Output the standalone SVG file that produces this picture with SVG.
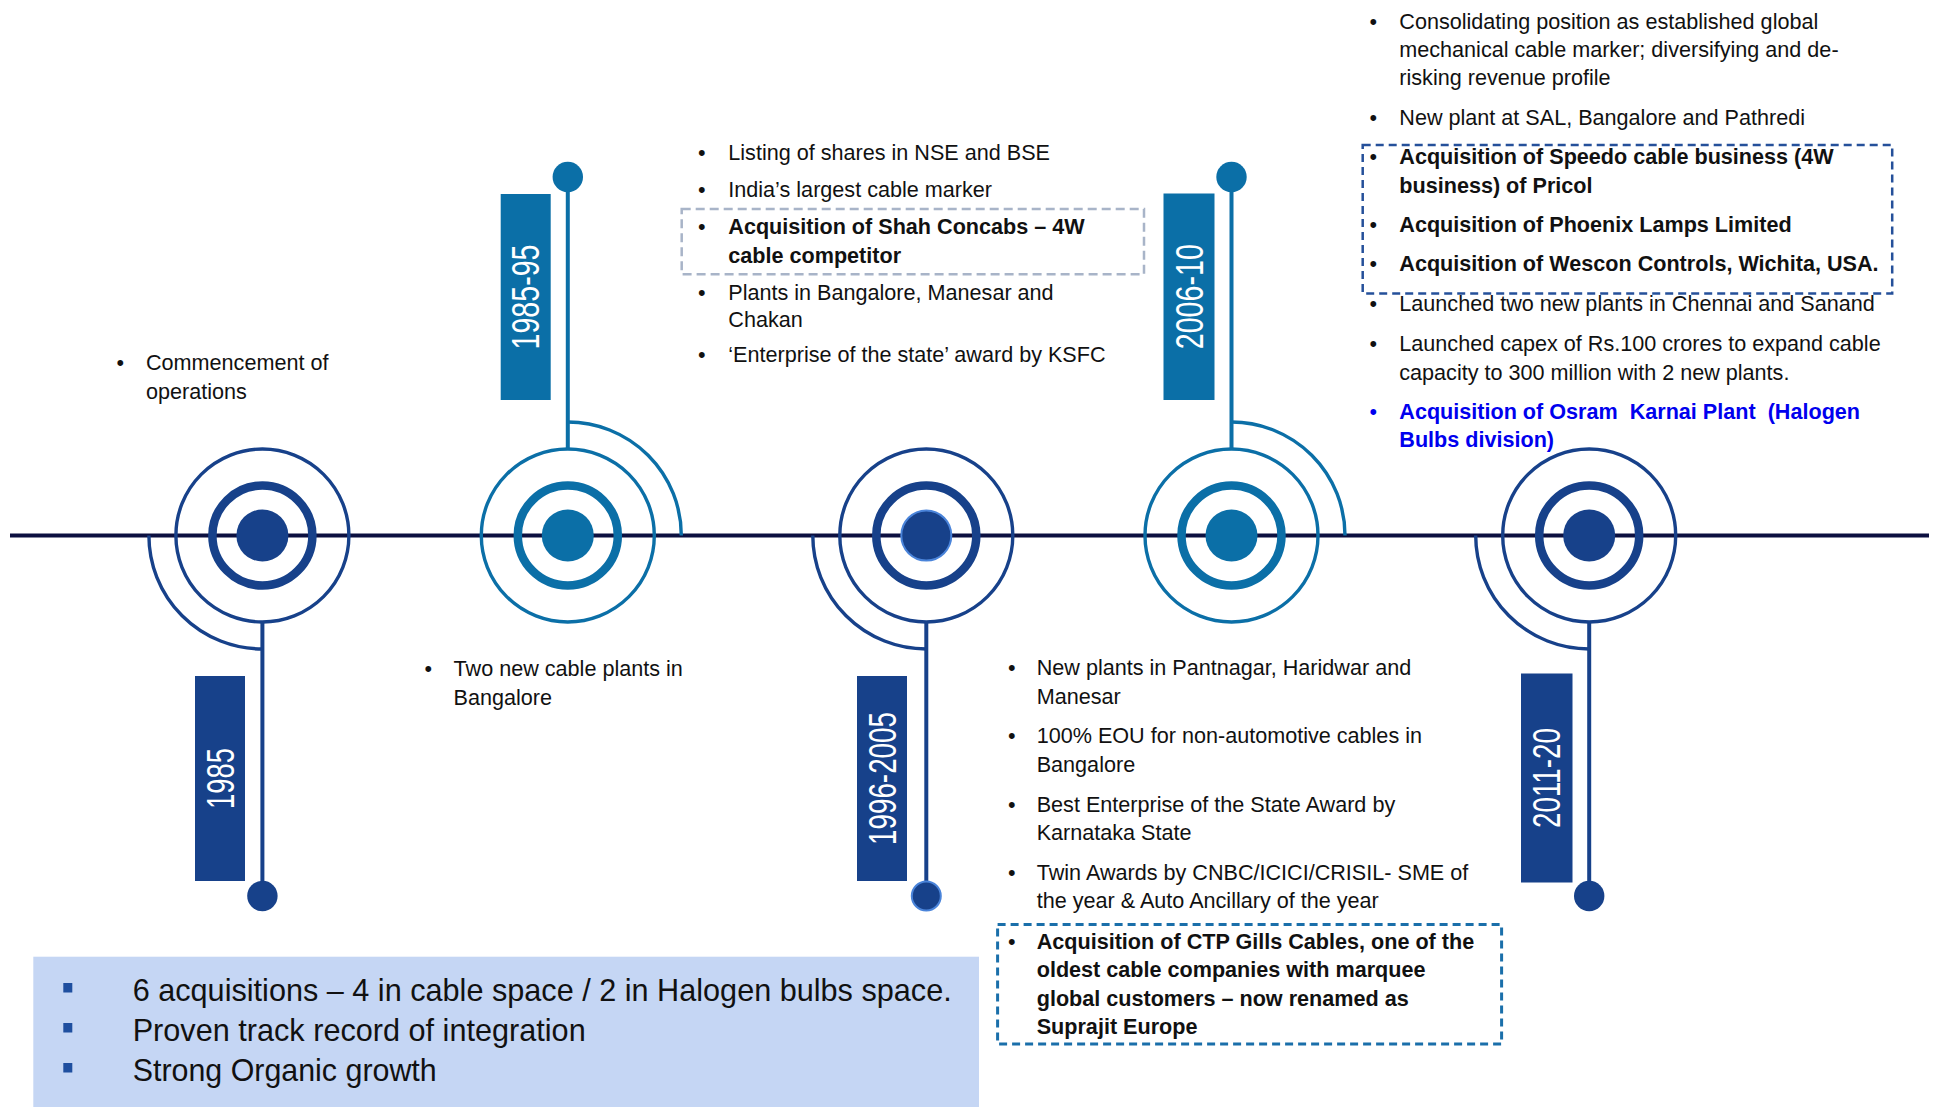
<svg xmlns="http://www.w3.org/2000/svg" width="1939" height="1107" viewBox="0 0 1939 1107">
<style>
.t{font-family:"Liberation Sans",Arial,sans-serif;font-size:21.6px;fill:#111}
.b{font-weight:bold}
.blue{fill:#0000ee}
.big{font-size:32px}
.yr{font-family:"Liberation Sans",Arial,sans-serif;font-size:38px;fill:#fff}
.bu{text-anchor:middle}
.dk{stroke:#17418a;fill:none}
.tl{stroke:#0b6fa7;fill:none}
.fdk{fill:#17418a}
.ftl{fill:#0b6fa7}
.outer{stroke-width:3.4}
.ring{stroke-width:8.5}
.arc{stroke-width:3.4}
.stem{stroke-width:4}
</style>
<rect x="0" y="0" width="1939" height="1107" fill="#fff"/>

<g id="summary-box">
<rect x="33.3" y="956.7" width="945.7" height="151" fill="#c5d6f4"/>
<rect x="63.3" y="983" width="9" height="9.5" fill="#1f4f9f"/>
<rect x="63.3" y="1023" width="9" height="9.5" fill="#1f4f9f"/>
<rect x="63.3" y="1063" width="9" height="9.5" fill="#1f4f9f"/>
<text class="t big" x="132.7" y="1001" textLength="819" lengthAdjust="spacingAndGlyphs">6 acquisitions – 4 in cable space / 2 in Halogen bulbs space.</text>
<text class="t big" x="132.7" y="1041" textLength="453" lengthAdjust="spacingAndGlyphs">Proven track record of integration</text>
<text class="t big" x="132.7" y="1081" textLength="304" lengthAdjust="spacingAndGlyphs">Strong Organic growth</text>
</g>

<g id="connectors">
<line x1="10" y1="535.5" x2="1929" y2="535.5" stroke="#0c1040" stroke-width="4"/>
</g>

<g id="node-1985">
<circle class="dk outer" cx="262.4" cy="535.5" r="86.5"/>
<circle class="dk ring" cx="262.4" cy="535.5" r="50"/>
<circle class="fdk" cx="262.4" cy="535.5" r="26"/>
<path class="dk arc" d="M148.9,535.5 A113.5,113.5 0 0 0 262.4,649"/>
<line class="dk stem" x1="262.4" y1="622" x2="262.4" y2="896"/>
<circle class="fdk" cx="262.4" cy="896" r="15.2"/>
<rect class="fdk" x="195" y="676" width="50" height="205"/>
<text class="yr" transform="translate(220,778.5) rotate(-90)" x="0" y="13.6" text-anchor="middle" textLength="61" lengthAdjust="spacingAndGlyphs">1985</text>
<text class="t bu" x="120.3" y="370">•</text>
<text class="t" x="146" y="370">Commencement of</text>
<text class="t" x="146" y="398.8">operations</text>
</g>

<g id="node-1985-95">
<circle class="tl outer" cx="567.8" cy="535.5" r="86.5"/>
<circle class="tl ring" cx="567.8" cy="535.5" r="50"/>
<circle class="ftl" cx="567.8" cy="535.5" r="26"/>
<path class="tl arc" d="M567.8,422 A113.5,113.5 0 0 1 681.3,535.5"/>
<line class="tl stem" x1="567.8" y1="449" x2="567.8" y2="177"/>
<circle class="ftl" cx="567.8" cy="177" r="15.2"/>
<rect class="ftl" x="500.7" y="194" width="50" height="206"/>
<text class="yr" transform="translate(525.7,297) rotate(-90)" x="0" y="13.6" text-anchor="middle" textLength="105" lengthAdjust="spacingAndGlyphs">1985-95</text>
<text class="t bu" x="428.4" y="676.3">•</text>
<text class="t" x="453.6" y="676.3">Two new cable plants in</text>
<text class="t" x="453.6" y="705">Bangalore</text>
</g>

<g id="node-1996-2005">
<circle class="dk outer" cx="926.3" cy="535.5" r="86.5"/>
<circle class="dk ring" cx="926.3" cy="535.5" r="50"/>
<circle class="fdk" cx="926.3" cy="535.5" r="25" stroke="#4a84da" stroke-width="2"/>
<path class="dk arc" d="M812.8,535.5 A113.5,113.5 0 0 0 926.3,649"/>
<line class="dk stem" x1="926.3" y1="622" x2="926.3" y2="896"/>
<circle class="fdk" cx="926.3" cy="896" r="14.5" stroke="#4a84da" stroke-width="2"/>
<rect class="fdk" x="857" y="676" width="50" height="205"/>
<text class="yr" transform="translate(882,778.5) rotate(-90)" x="0" y="13.6" text-anchor="middle" textLength="133" lengthAdjust="spacingAndGlyphs">1996-2005</text>
<rect x="681.7" y="209" width="462.3" height="65.3" fill="none" stroke="#a8b4c8" stroke-width="2.5" stroke-dasharray="9 5"/>
<text class="t bu" x="701.7" y="160">•</text>
<text class="t" x="728.3" y="160">Listing of shares in NSE and BSE</text>
<text class="t bu" x="701.7" y="196.7">•</text>
<text class="t" x="728.3" y="196.7">India’s largest cable marker</text>
<text class="t bu" x="701.7" y="234">•</text>
<text class="t b" x="728.3" y="234">Acquisition of Shah Concabs – 4W</text>
<text class="t b" x="728.3" y="262.7">cable competitor</text>
<text class="t bu" x="701.7" y="300">•</text>
<text class="t" x="728.3" y="300">Plants in Bangalore, Manesar and</text>
<text class="t" x="728.3" y="327.3">Chakan</text>
<text class="t bu" x="701.7" y="361.7">•</text>
<text class="t" x="728.3" y="361.7">‘Enterprise of the state’ award by KSFC</text>
</g>

<g id="node-2006-10">
<circle class="tl outer" cx="1231.5" cy="535.5" r="86.5"/>
<circle class="tl ring" cx="1231.5" cy="535.5" r="50"/>
<circle class="ftl" cx="1231.5" cy="535.5" r="26"/>
<path class="tl arc" d="M1231.5,422 A113.5,113.5 0 0 1 1345,535.5"/>
<line class="tl stem" x1="1231.5" y1="449" x2="1231.5" y2="177"/>
<circle class="ftl" cx="1231.5" cy="177" r="15.2"/>
<rect class="ftl" x="1163.5" y="193.5" width="51" height="206.5"/>
<text class="yr" transform="translate(1189,296.7) rotate(-90)" x="0" y="13.6" text-anchor="middle" textLength="105" lengthAdjust="spacingAndGlyphs">2006-10</text>
<text class="t bu" x="1011.7" y="675">•</text>
<text class="t" x="1036.7" y="675">New plants in Pantnagar, Haridwar and</text>
<text class="t" x="1036.7" y="704">Manesar</text>
<text class="t bu" x="1011.7" y="743.3">•</text>
<text class="t" x="1036.7" y="743.3">100% EOU for non-automotive cables in</text>
<text class="t" x="1036.7" y="771.7">Bangalore</text>
<text class="t bu" x="1011.7" y="811.7">•</text>
<text class="t" x="1036.7" y="811.7">Best Enterprise of the State Award by</text>
<text class="t" x="1036.7" y="840">Karnataka State</text>
<text class="t bu" x="1011.7" y="880">•</text>
<text class="t" x="1036.7" y="880">Twin Awards by CNBC/ICICI/CRISIL- SME of</text>
<text class="t" x="1036.7" y="908.3">the year &amp; Auto Ancillary of the year</text>
<rect x="997.6" y="924.5" width="504" height="119.5" fill="none" stroke="#1a6faa" stroke-width="3" stroke-dasharray="8 5"/>
<text class="t bu" x="1011.7" y="948.5">•</text>
<text class="t b" x="1036.7" y="948.5">Acquisition of CTP Gills Cables, one of the</text>
<text class="t b" x="1036.7" y="977">oldest cable companies with marquee</text>
<text class="t b" x="1036.7" y="1005.5">global customers – now renamed as</text>
<text class="t b" x="1036.7" y="1034">Suprajit Europe</text>
</g>

<g id="node-2011-20">
<circle class="dk outer" cx="1589.2" cy="535.5" r="86.5"/>
<circle class="dk ring" cx="1589.2" cy="535.5" r="50"/>
<circle class="fdk" cx="1589.2" cy="535.5" r="26"/>
<path class="dk arc" d="M1475.7,535.5 A113.5,113.5 0 0 0 1589.2,649"/>
<line class="dk stem" x1="1589.2" y1="622" x2="1589.2" y2="896"/>
<circle class="fdk" cx="1589.2" cy="896" r="15.2"/>
<rect class="fdk" x="1521" y="673.5" width="51.5" height="209"/>
<text class="yr" transform="translate(1546.7,778) rotate(-90)" x="0" y="13.6" text-anchor="middle" textLength="100" lengthAdjust="spacingAndGlyphs">2011-20</text>
<text class="t bu" x="1373.3" y="29">•</text>
<text class="t" x="1399.3" y="29">Consolidating position as established global</text>
<text class="t" x="1399.3" y="57">mechanical cable marker; diversifying and de-</text>
<text class="t" x="1399.3" y="85">risking revenue profile</text>
<text class="t bu" x="1373.3" y="125">•</text>
<text class="t" x="1399.3" y="125">New plant at SAL, Bangalore and Pathredi</text>
<rect x="1362.7" y="145" width="529.5" height="148.5" fill="none" stroke="#25509a" stroke-width="2.5" stroke-dasharray="8 5"/>
<text class="t bu" x="1373.3" y="164">•</text>
<text class="t b" x="1399.3" y="164">Acquisition of Speedo cable business (4W</text>
<text class="t b" x="1399.3" y="192.7">business) of Pricol</text>
<text class="t bu" x="1373.3" y="231.7">•</text>
<text class="t b" x="1399.3" y="231.7">Acquisition of Phoenix Lamps Limited</text>
<text class="t bu" x="1373.3" y="270.7">•</text>
<text class="t b" x="1399.3" y="270.7">Acquisition of Wescon Controls, Wichita, USA.</text>
<text class="t bu" x="1373.3" y="310.7">•</text>
<text class="t" x="1399.3" y="310.7">Launched two new plants in Chennai and Sanand</text>
<text class="t bu" x="1373.3" y="350.7">•</text>
<text class="t" x="1399.3" y="350.7">Launched capex of Rs.100 crores to expand cable</text>
<text class="t" x="1399.3" y="380">capacity to 300 million with 2 new plants.</text>
<text class="t bu blue" x="1373.3" y="419">•</text>
<text class="t b blue" x="1399.3" y="419" xml:space="preserve">Acquisition of Osram  Karnai Plant  (Halogen</text>
<text class="t b blue" x="1399.3" y="447.3">Bulbs division)</text>
</g>
</svg>
